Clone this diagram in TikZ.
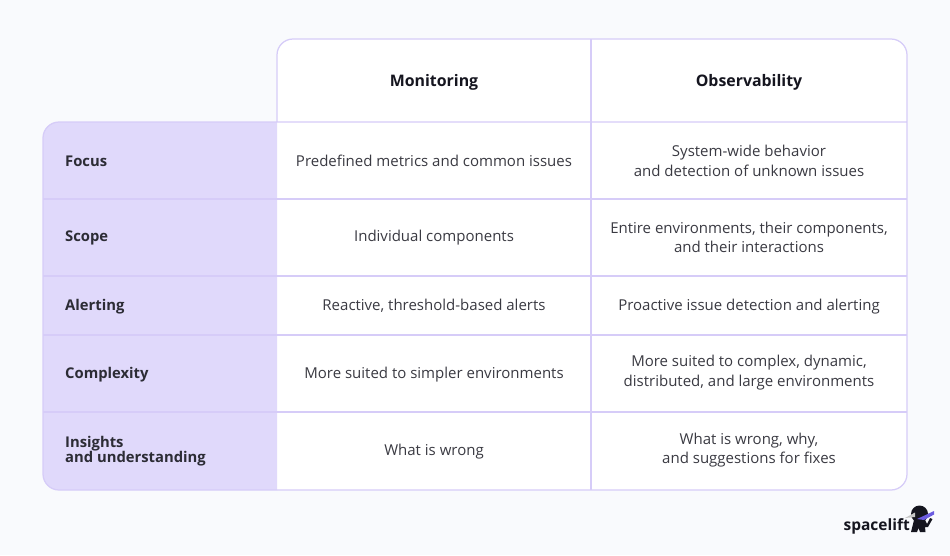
\documentclass[tikz,border=0pt]{standalone}
\usepackage{fontspec}
\setmainfont{Open Sans}
\usepackage{tikz}
\definecolor{pagebg}{HTML}{F9FAFD}
\definecolor{gridline}{HTML}{D6CCF8}
\definecolor{headfill}{HTML}{E0D9FB}
\definecolor{inktext}{HTML}{3A3A42}
\definecolor{logoink}{HTML}{15151F}
\definecolor{ringblue}{HTML}{6B5BE0}
\tikzset{
  cell/.style={text=inktext,align=center,inner sep=0pt,font=\fontsize{15}{19.5}\selectfont},
  oneline/.style={text height=12pt,text depth=0.5pt},
  rowhead/.style={text=logoink!90,align=left,anchor=west,inner sep=0pt,font=\fontsize{14.8}{15}\selectfont\bfseries},
  colhead/.style={text=logoink,inner sep=0pt,text height=13pt,text depth=0.5pt,font=\fontsize{15.9}{19}\selectfont\bfseries},
  grid/.style={gridline,line width=1.25pt}
}
\begin{document}
\begin{tikzpicture}[x=1pt,y=-1pt]
\useasboundingbox (0,0) rectangle (950,555);
\fill[pagebg] (0,0) rectangle (950,555);
%table body
\fill[white,rounded corners=16pt] (277,122) -- (277,39) -- (907,39) -- (907,490) [sharp corners] -- (277,490) -- cycle;
\fill[headfill,rounded corners=16pt] (277,122) -- (43,122) -- (43,490) [sharp corners] -- (277,490) -- cycle;
%rows
\foreach \y in {199,276,335,412} {
  \draw[grid] (43,\y) -- (907,\y);
}
\draw[grid] (591,39) -- (591,490);
\draw[grid,rounded corners=16pt] (277,122) -- (277,39) -- (907,39) -- (907,490) -- (43,490) -- (43,122) -- (907,122);
%column heads
\node[colhead] (mon) at (434,80.5) {Monitoring};
\node[colhead] (obs) at (749,80.5) {Observability};
%row heads
\node[rowhead,oneline] (focus) at (65,160.5) {Focus};
\node[rowhead,oneline] (scope) at (65,236) {Scope};
\node[rowhead,oneline] (alert) at (65,304.5) {Alerting};
\node[rowhead,oneline] (compl) at (65,372.5) {Complexity};
\node[rowhead] (insig) at (65,451) {Insights\\and understanding};
%monitoring column
\node[cell,oneline] (m1) at (434,160.5) {Predefined metrics and common issues};
\node[cell,oneline] (m2) at (434,236) {Individual components};
\node[cell,oneline] (m3) at (434,304.5) {Reactive, threshold-based alerts};
\node[cell,oneline] (m4) at (434,372.5) {More suited to simpler environments};
\node[cell,oneline] (m5) at (434,450) {What is wrong};
%observability column
\node[cell] (o1) at (749,161) {System-wide behavior\\and detection of unknown issues};
\node[cell] (o2) at (749,237.5) {Entire environments, their components,\\and their interactions};
\node[cell,oneline] (o3) at (749,304.5) {Proactive issue detection and alerting};
\node[cell] (o4) at (749,372.5) {More suited to complex, dynamic,\\distributed, and large environments};
\node[cell] (o5) at (749,450) {What is wrong, why,\\and suggestions for fixes};
%logo
\node[anchor=east,inner sep=0pt,text=logoink,font=\fontsize{15.5}{16}\selectfont\bfseries] (logo) at (910,526.5) {spacelift};
\fill[logoink] (919.5,514) circle[radius=8.5];
\fill[logoink] (911,532) -- (914,520) -- (925,520) -- (927,524) -- (930,518) -- (932.5,519) -- (928,527) -- (925,527) -- (925.5,532) -- (920,532) -- (918.5,528) -- (917,532) -- cycle;
\fill[gray!45] (905,518) -- (915,512.5) -- (915,517) -- cycle;
\fill[ringblue] (917,519) -- (934,511) -- (934,514.5) -- (924,520) -- cycle;
\end{tikzpicture}
\end{document}
